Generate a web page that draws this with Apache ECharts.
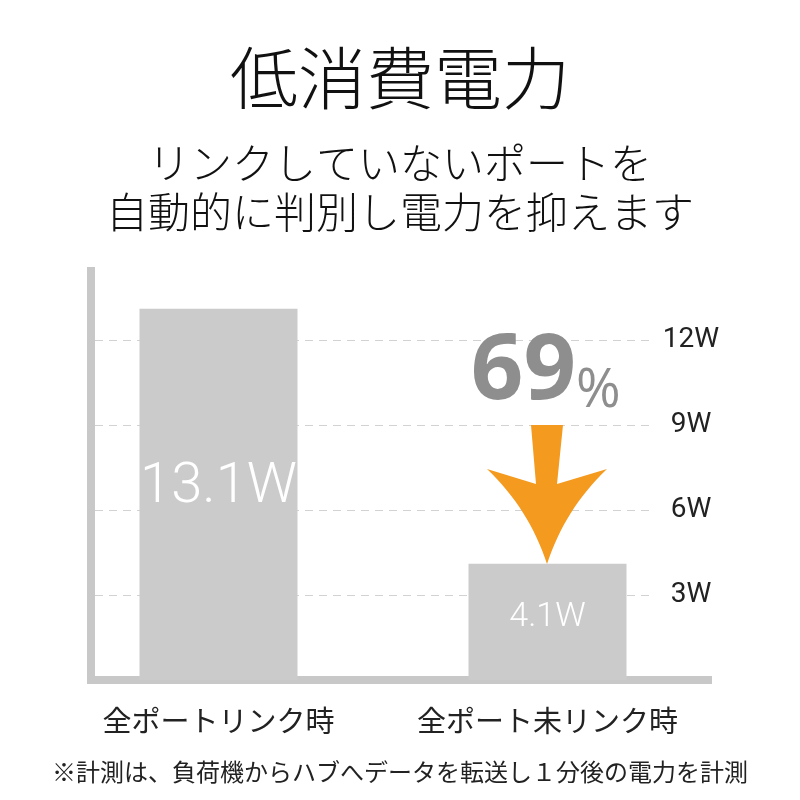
<!DOCTYPE html>
<html>
<head>
<meta charset="utf-8">
<script src="https://cdn.jsdelivr.net/npm/echarts@6/dist/echarts.min.js"></script>
<style>
html,body{margin:0;padding:0;background:#fff;}
#chart{width:800px;height:800px;}
</style>
</head>
<body>
<div id="chart"></div>
<script>
// ---- data ----
const categories = ['全ポートリンク時', '全ポート未リンク時'];
const values = [13.1, 4.1];
const valueLabels = ['13.1W', '4.1W'];
const yTicks = [0, 3, 6, 9, 12];
const unit = 'W';
const titleText = '低消費電力';
const subtitleLines = ['リンクしていないポートを', '自動的に判別し電力を抑えます'];
const reductionText = '69';
const reductionUnit = '%';
const footnote = '※計測は、負荷機からハブへデータを転送し１分後の電力を計測';

const JP = "'Noto Sans CJK JP', 'Noto Sans', sans-serif";
const NUM = "Roboto, 'Open Sans', sans-serif";
const gray = '#cbcbcb';
const axisGray = '#c8c8c8';

const chart = echarts.init(document.getElementById('chart'), null, {renderer: 'canvas'});

const labelSizes = [56, 34];

// arrow outline (decoration) built from quadratic curves
function quad(p0, c, p1, n) {
  const pts = [];
  for (let k = 1; k <= n; k++) {
    const t = k / n, u = 1 - t;
    pts.push([u * u * p0[0] + 2 * u * t * c[0] + t * t * p1[0],
              u * u * p0[1] + 2 * u * t * c[1] + t * t * p1[1]]);
  }
  return pts;
}
const arrowPts = [[531, 425], [563, 425], [557, 484], [607, 469]]
  .concat(quad([607, 469], [565, 509], [547, 564], 16))
  .concat(quad([547, 564], [529, 509], [487, 469], 16))
  .concat([[536, 484]]);

const option = {
  animation: false,
  backgroundColor: '#ffffff',
  grid: [
    {left: 54, right: 88, top: 255, bottom: 120},   // bars
    {left: 95, right: 147, top: 340, bottom: 120},  // dashed grid + labels
    {left: 91, right: 88, top: 267, bottom: 116}    // axis lines
  ],
  xAxis: [
    {
      gridIndex: 0, type: 'category', data: categories,
      axisLine: {show: false}, axisTick: {show: false},
      axisLabel: {interval: 0, fontSize: 29, color: '#222', margin: 26, fontFamily: JP}
    },
    {gridIndex: 1, type: 'value', min: 0, max: 1, show: false},
    {
      gridIndex: 2, type: 'value', min: 0, max: 1, offset: -4,
      axisLine: {show: true, onZero: false, lineStyle: {color: axisGray, width: 8, cap: 'butt'}},
      axisTick: {show: false}, axisLabel: {show: false}, splitLine: {show: false}
    }
  ],
  yAxis: [
    {gridIndex: 0, type: 'value', min: 0, max: 15, show: false},
    {
      gridIndex: 1, type: 'value', position: 'right',
      min: yTicks[0], max: yTicks[yTicks.length - 1], interval: yTicks[1] - yTicks[0],
      axisLine: {show: false}, axisTick: {show: false},
      axisLabel: {
        show: true, margin: 38, align: 'center', fontSize: 28, color: '#222', fontFamily: NUM,
        formatter: v => (v === 0 ? '' : v + unit)
      },
      splitLine: {show: true, lineStyle: {color: '#d2d2d2', width: 1, type: [8, 6]}}
    },
    {
      gridIndex: 2, type: 'value', min: 0, max: 1,
      axisLine: {show: true, onZero: false, lineStyle: {color: axisGray, width: 8, cap: 'butt'}},
      axisTick: {show: false}, axisLabel: {show: false}, splitLine: {show: false}
    }
  ],
  series: [{
    type: 'bar',
    xAxisIndex: 0, yAxisIndex: 0,
    barWidth: 158,
    itemStyle: {color: gray},
    data: values.map((v, i) => ({
      value: v,
      label: {
        show: true, position: 'inside', color: '#fff',
        fontSize: labelSizes[i], fontWeight: 300, fontFamily: NUM,
        offset: [0, i === 0 ? -6 : -4],
        formatter: () => valueLabels[i]
      }
    }))
  }],
  graphic: [
    {
      type: 'text', z: 10,
      style: {text: titleText, x: 400, y: 78, align: 'center', verticalAlign: 'middle',
        fontSize: 68, fontWeight: 300, fontFamily: JP, fill: '#111'}
    },
    {
      type: 'text', z: 10,
      style: {text: subtitleLines[0], x: 400, y: 163, align: 'center', verticalAlign: 'middle',
        fontSize: 42, fontWeight: 300, fontFamily: JP, fill: '#111'}
    },
    {
      type: 'text', z: 10,
      style: {text: subtitleLines[1], x: 400, y: 212, align: 'center', verticalAlign: 'middle',
        fontSize: 42, fontWeight: 300, fontFamily: JP, fill: '#111'}
    },
    {
      type: 'text', z: 10,
      style: {text: footnote, x: 400, y: 772, align: 'center', verticalAlign: 'middle',
        fontSize: 24, fontFamily: JP, fill: '#222'}
    },
    {
      type: 'text', z: 10,
      style: {text: reductionText, x: 576, y: 373, align: 'right', verticalAlign: 'middle',
        fontSize: 92, fontWeight: 'bold', fontFamily: "'Open Sans', sans-serif", fill: '#8e8e8e'}
    },
    {
      type: 'text', z: 10,
      style: {text: reductionUnit, x: 576, y: 392, align: 'left', verticalAlign: 'middle',
        fontSize: 54, fontFamily: "'Open Sans', sans-serif", fill: '#8e8e8e'}
    },
    {
      type: 'polygon', z: 10,
      shape: {points: arrowPts},
      style: {fill: '#f39a1f'}
    }
  ]
};

chart.setOption(option);
</script>
</body>
</html>
